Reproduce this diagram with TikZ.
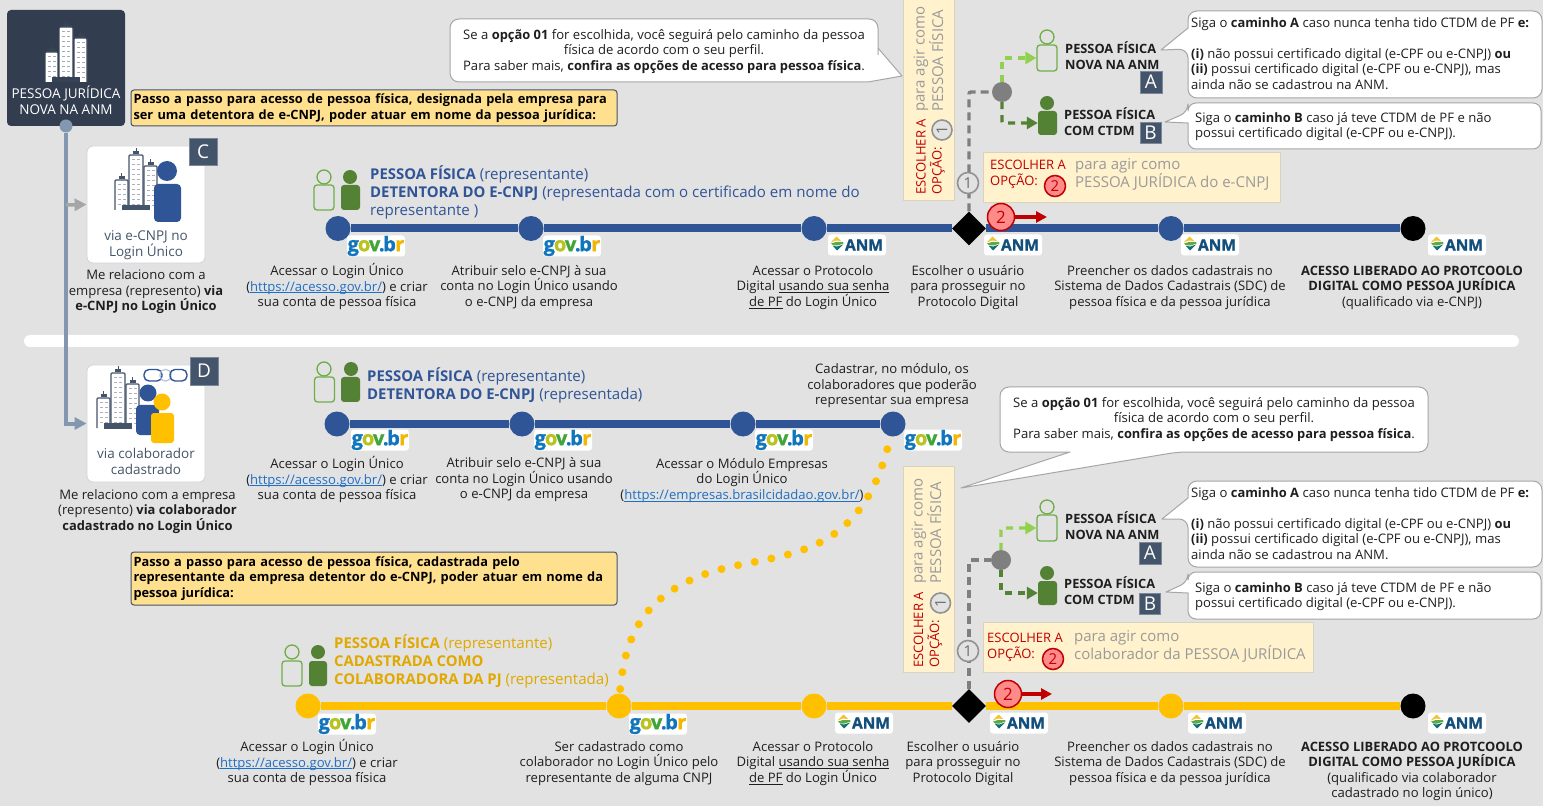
\documentclass[tikz,border=0pt]{standalone}
\usepackage{fontspec}
\setmainfont{Open Sans}[BoldFeatures={Scale=0.985}]
\newfontfamily\logofont{Open Sans}[BoldFeatures={FakeBold=1.2}]
\usetikzlibrary{arrows.meta,shapes.geometric,backgrounds}
\pgfdeclarelayer{back}\pgfdeclarelayer{conn}\pgfsetlayers{back,conn,main}
\definecolor{bgc}{HTML}{E2E2E2}
\definecolor{ink}{HTML}{1E1E1E}
\definecolor{slate}{HTML}{44546A}
\definecolor{navy}{HTML}{323E50}
\definecolor{blu}{HTML}{2F5597}
\definecolor{yel}{HTML}{FFC000}
\definecolor{yeltx}{HTML}{E0A800}
\definecolor{lnk}{HTML}{1F6FC4}
\definecolor{lg}{HTML}{92D050}
\definecolor{lgo}{HTML}{70AD47}
\definecolor{dg}{HTML}{548235}
\definecolor{cream}{HTML}{FFF2CC}
\definecolor{creamb}{HTML}{D9D3BE}
\definecolor{note}{HTML}{FFE08F}
\definecolor{redd}{HTML}{C00000}
\definecolor{pink}{HTML}{FF8A8A}
\definecolor{gry}{HTML}{7F7F7F}
\definecolor{gtx}{HTML}{9A9A9A}
\definecolor{spinec}{HTML}{8497B0}
\definecolor{arrg}{HTML}{A6A6A6}
\definecolor{cardb}{HTML}{D0D4DC}
\definecolor{anmy}{HTML}{F2C230}
\definecolor{anmg}{HTML}{5AAA46}
\definecolor{anmt}{HTML}{146E78}
\definecolor{anmb}{HTML}{134F7C}
\newcommand\fsz[2]{\fontsize{#1}{#2}\selectfont}
\newcommand\uln[1]{\leavevmode\setbox0\hbox{#1}\rlap{\copy0}\rlap{\rule[-1.7pt]{\wd0}{.6pt}}\kern\wd0\relax}
\newcommand\lk[1]{\textcolor{lnk}{\uln{#1}}}
\newcommand\gb{{\logofont\fsz{20}{20}\bfseries\textcolor[HTML]{0F75BC}{g}\kern-1pt\textcolor[HTML]{B9C21E}{o}\kern-1.4pt\textcolor[HTML]{3FA535}{v}\kern-1.4pt\textcolor[HTML]{0F75BC}{.}\kern-1.4pt\textcolor[HTML]{0F75BC}{b}\kern-.6pt\textcolor[HTML]{F2B705}{r}}}
\tikzset{
 txt/.style={align=center,inner sep=0pt,text=ink,font=\fsz{13.1}{15.5},yshift=-1.5pt},
 ltxt/.style={align=left,inner sep=0pt,text=ink,font=\fsz{13.1}{15.5},yshift=-2pt},
 hdr/.style={align=left,inner sep=0pt,font=\fsz{15.1}{18}},
 logo/.style={fill=white,rounded corners=3pt,minimum width=58pt,minimum height=21pt,inner sep=0pt},
 badge/.style={fill=slate,text=white,inner sep=0pt,font=\fsz{19}{19},draw=slate!70!white,line width=.6pt},
 card/.style={fill=white,draw=cardb,line width=.8pt,rounded corners=6pt,minimum width=118pt,minimum height=117pt,inner sep=0pt},
 sblue/.style={circle,fill=blu,minimum size=25pt,inner sep=0pt},
 syel/.style={circle,fill=yel,minimum size=25pt,inner sep=0pt},
 sblk/.style={circle,fill=black,minimum size=25pt,inner sep=0pt},
 dia/.style={diamond,fill=black,minimum width=34pt,minimum height=34pt,inner sep=0pt,aspect=1},
 lineb/.style={draw=blu,line width=8pt},
 liney/.style={draw=yel,line width=8pt},
 choice/.style={fill=cream,draw=creamb,line width=.8pt,inner sep=0pt},
 one/.style={circle,draw=gry!85!white,fill=bgc,line width=1.6pt,minimum size=21pt,inner sep=0pt,text=gry!85!black,font=\fsz{15}{15}},
 two/.style={circle,draw=redd,fill=pink,line width=1.5pt,inner sep=0pt,text=redd},
 dot/.style={circle,fill=gry,minimum size=20pt,inner sep=0pt},
 gdash/.style={draw=gry,line width=3.4pt,dash pattern=on 8pt off 5pt,rounded corners=2pt},
 lgdash/.style={draw=lg,line width=3.4pt,dash pattern=on 7pt off 6pt,rounded corners=2pt,-{Triangle[length=11pt,width=12pt]}},
 dgdash/.style={draw=dg,line width=3.4pt,dash pattern=on 7pt off 6pt,rounded corners=2pt,-{Triangle[length=11pt,width=12pt]}},
 redarr/.style={draw=redd,line width=3.2pt,-{Triangle[length=11pt,width=11pt]}},
 headL/.style={circle,draw=lgo,line width=1.3pt,minimum size=14pt,inner sep=0pt},
 bodyL/.style={draw=lgo,line width=1.3pt,rounded corners=3pt,inner sep=0pt},
 headD/.style={circle,fill=dg,minimum size=14pt,inner sep=0pt},
 bodyD/.style={fill=dg,rounded corners=3pt,inner sep=0pt},
 bub/.style={fill=white,draw=arrg,line width=1pt,line join=round},
 yellownote/.style={fill=note,draw=slate,line width=1pt,rounded corners=3pt,inner sep=0pt,align=left,text=black,font=\fsz{13}{15.5}\bfseries},
 grytxt/.style={align=left,inner sep=0pt,text=gtx},
 redtxt/.style={align=left,inner sep=0pt,text=redd,font=\fsz{13}{16}},
 plab/.style={align=left,inner sep=0pt,text=ink,font=\fsz{13}{15.5}\bfseries},
}
% x, y, name
\newcommand\gv[3]{\node[logo] (#3) at (#1,#2) {\gb};}
\newcommand\an[3]{\node[logo] (#3) at (#1,#2) {\hspace*{14pt}{\logofont\fsz{15.5}{16}\bfseries\textcolor{anmb}{ANM}}};
 \begin{scope}[shift={(#1,#2)}]
 \fill[anmy] (-26.5,-2.5) -- (-20.5,-8.5) -- (-16,-4) -- (-21,-4.5) -- cycle;
 \fill[anmg] (-26,-1.5) -- (-21,-3) -- (-14,-3) -- (-13.5,-1.5) -- (-19.5,0.5) -- (-24,0.5) -- cycle;
 \fill[anmt] (-24,1) -- (-19.5,1.5) -- (-14,-.5) -- (-20,5.5) -- cycle;
 \end{scope}}
% x y scale outline windows
\newcommand\bldg[5]{\begin{scope}[shift={(#1,#2)},scale=#3]
 \foreach \a/\b/\t in {-21/-8/-30,-7/7/-55,8/21/-44}{
  \fill[#4] ({(\a+\b)/2-3},\t-1) rectangle ({(\a+\b)/2+3},\t-4);
  \draw[#4] ({(\a+\b)/2},\t-4) -- ({(\a+\b)/2},\t-7);
  \draw[#4,fill=white,line width=1.3pt,rounded corners=1pt] (\a,0) -- (\a,\t) -- (\b,\t) -- (\b,0);
  \foreach \r in {4,9,...,54}{
   \pgfmathparse{\t+\r<-1?1:0}
   \ifnum\pgfmathresult=1
    \fill[#5] (\a+2.5,\t+\r) rectangle (\a+5.8,\t+\r+1.2);
    \fill[#5] (\a+7.5,\t+\r) rectangle (\a+10.8,\t+\r+1.2);
   \fi}}
 \fill[#4] (-14,-5) rectangle (14,0.5);
 \end{scope}}
\begin{document}
\begin{tikzpicture}[x=1pt,y=-1pt]
\useasboundingbox (0,0) rectangle (1543,810);
\begin{pgfonlayer}{back}
\fill[bgc] (0,0) rectangle (1543,806);
\fill[white,rounded corners=6pt] (24,335) rectangle (1519,347);
\end{pgfonlayer}

% PJ
\node[fill=navy,rounded corners=4pt,minimum width=118pt,minimum height=116pt,inner sep=0pt] (pj) at (66,68) {};
\bldg{66}{82}{1}{slate!80!black}{slate!50!white}
\node[txt,text=white,font=\fsz{13.5}{16}] (pjt) at (66,98.5) {PESSOA JURÍDICA\\NOVA NA ANM};
\node[circle,fill=spinec,minimum size=13pt,inner sep=0pt] (pjdot) at (66,126) {};

\node[yellownote,minimum width=486pt,minimum height=36pt,text width=481pt] (n1) at (374,108) {Passo a passo para acesso de pessoa física, designada pela empresa para\\ser uma detentora de e-CNPJ, poder atuar em nome da pessoa jurídica:};
\node[yellownote,minimum width=486pt,minimum height=53pt,text width=481pt] (n2) at (374,578.5) {Passo a passo para acesso de pessoa física, cadastrada pelo\\representante da empresa detentor do e-CNPJ, poder atuar em nome da\\pessoa jurídica:};

% cards
\node[card] (cardc) at (146,204.5) {};
\node[card] (cardd) at (146,423.5) {};
\node[badge,minimum width=28pt,minimum height=27pt] (bc) at (203,151.5) {C};
\node[badge,minimum width=28pt,minimum height=28pt] (bd) at (204,371) {D};
\coordinate (spl) at (66,205);
\begin{pgfonlayer}{conn}
\draw[draw=spinec,line width=4pt,-{Triangle[length=12pt,width=12pt]}] (pjdot) |- (cardd.west);
\draw[draw=arrg,line width=3.5pt,-{Triangle[length=12pt,width=12pt]}] (spl) -- (cardc.west);
\end{pgfonlayer}
\bldg{136}{210}{1}{slate}{slate!45!white}
\node[circle,fill=blu,minimum size=20pt,inner sep=0pt] (pch) at (167,171) {};
\node[fill=blu,rounded corners=4pt,minimum width=27pt,minimum height=38pt,inner sep=0pt] (pcb) at (167.5,203) {};
\node[txt,text=slate,font=\fsz{13.5}{16}] (cct) at (146,243.5) {via e-CNPJ no\\Login Único};
\node[txt] (ccc) at (146,290.5) {Me relaciono com a\\empresa (represento) \textbf{via}\\\textbf{e-CNPJ no Login Único}};

\draw[draw=blu,line width=1.4pt,rounded corners=5pt] (144,369.5) rectangle (162,381);
\draw[draw=blu!35!white,line width=1.2pt,rounded corners=5pt] (160,369.5) rectangle (171,381);
\draw[draw=blu,line width=1.4pt,rounded corners=5pt] (170,369.5) rectangle (187,381);
\bldg{118}{428}{1}{slate}{slate!45!white}
\node[circle,fill=blu,minimum size=17pt,inner sep=0pt] (pdh) at (148,393) {};
\node[fill=blu,rounded corners=4pt,minimum width=23pt,minimum height=30pt,inner sep=0pt] (pdb) at (147.5,420) {};
\node[circle,fill=yel,minimum size=17pt,inner sep=0pt] (pdh2) at (162,402) {};
\node[fill=yel,rounded corners=3pt,minimum width=23pt,minimum height=30pt,inner sep=0pt] (pdb2) at (162.5,428) {};
\node[txt,text=slate,font=\fsz{13.5}{16}] (cdt) at (146,460) {via colaborador\\cadastrado};
\node[txt] (cdc) at (147.5,510) {Me relaciono com a empresa\\(represento) \textbf{via colaborador}\\\textbf{cadastrado no Login Único}};

% === line 1
\node[sblue] (a1) at (338,228.5) {};
\node[sblue] (a2) at (531,228.5) {};
\node[sblue] (a3) at (814,228.5) {};
\node[dia] (a4) at (969,228.5) {};
\node[sblue] (a5) at (1171,228.5) {};
\node[sblk] (a6) at (1413,228.5) {};
\begin{pgfonlayer}{conn}\path[lineb] (a1) -- (a2) -- (a3) -- (a4) -- (a5) -- (a6);\end{pgfonlayer}
\gv{376}{246}{ga1}\gv{572}{246}{ga2}
\an{857}{245}{na3}\an{1013}{245}{na4}\an{1210}{245}{na5}\an{1457}{245}{na6}
\node[headL] (h1a) at (324,177) {};
\node[bodyL,minimum width=20pt,minimum height=25pt] (b1a) at (324,197.5) {};
\node[headD] (h1b) at (350,177) {};
\node[bodyD,minimum width=19pt,minimum height=25pt] (b1b) at (350.5,197.5) {};
\node[hdr,anchor=west,text=blu] (ht1) at (370,192) {\textbf{PESSOA FÍSICA} (representante)\\\textbf{DETENTORA DO E-CNPJ} (representada com o certificado em nome do\\representante )};
\node[txt] (t11) at (337,285) {Acessar o Login Único\\(\lk{https://acesso.gov.br/}) e criar\\sua conta de pessoa física};
\node[txt] (t12) at (529,286) {Atribuir selo e-CNPJ à sua\\conta no Login Único usando\\o e-CNPJ da empresa};
\node[txt] (t13) at (813,286) {Acessar o Protocolo\\Digital \uln{usando sua senha}\\\uln{de PF} do Login Único};
\node[txt] (t14) at (968,286) {Escolher o usuário\\para prosseguir no\\Protocolo Digital};
\node[txt] (t15) at (1170,286) {Preencher os dados cadastrais no\\Sistema de Dados Cadastrais (SDC) de\\pessoa física e da pessoa jurídica};
\node[txt] (t16) at (1412,286) {\textbf{ACESSO LIBERADO AO PROTCOOLO}\\\textbf{DIGITAL COMO PESSOA JURÍDICA}\\(qualificado via e-CNPJ)};

% === line 2
\node[sblue] (c1) at (337,424) {};
\node[sblue] (c2) at (522,424) {};
\node[sblue] (c3) at (743,424) {};
\node[sblue] (c4) at (893,424) {};
\begin{pgfonlayer}{conn}\path[lineb] (c1) -- (c2) -- (c3) -- (c4);\end{pgfonlayer}
\gv{380}{440}{gc1}\gv{563}{440}{gc2}\gv{784}{440}{gc3}\gv{933}{440}{gc4}
\node[headL] (h2a) at (324,369) {};
\node[bodyL,minimum width=20pt,minimum height=25pt] (b2a) at (324.5,389.5) {};
\node[headD] (h2b) at (351,369) {};
\node[bodyD,minimum width=19pt,minimum height=25pt] (b2b) at (350.5,389.5) {};
\node[hdr,anchor=west,text=blu] (ht2) at (367,385) {\textbf{PESSOA FÍSICA} (representante)\\\textbf{DETENTORA DO E-CNPJ} (representada)};
\node[txt] (t24) at (892,384.5) {Cadastrar, no módulo, os\\colaboradores que poderão\\representar sua empresa};
\node[txt] (t21) at (337,478) {Acessar o Login Único\\(\lk{https://acesso.gov.br/}) e criar\\sua conta de pessoa física};
\node[txt] (t22) at (524,478.5) {Atribuir selo e-CNPJ à sua\\conta no Login Único usando\\o e-CNPJ da empresa};
\node[txt] (t23) at (742,479) {Acessar o Módulo Empresas\\do Login Único\\(\lk{https://empresas.brasilcidadao.gov.br/})};

% === line 3
\node[syel] (e1) at (308,706) {};
\node[syel] (e2) at (619,706) {};
\node[syel] (e3) at (814,706) {};
\node[dia] (e4) at (969,706) {};
\node[syel] (e5) at (1171,706) {};
\node[sblk] (e6) at (1413,706) {};
\begin{pgfonlayer}{conn}
\path[liney] (e1) -- (e2) -- (e3) -- (e4) -- (e5) -- (e6);
\draw[draw=yel,line width=8pt,line cap=round,dash pattern=on 0pt off 17pt] (e2.center) .. controls (622,640) and (640,600) .. (700,576) .. controls (770,548) and (865,575) .. (c4.center);
\end{pgfonlayer}
\gv{347}{724}{ge1}\gv{658}{724}{ge2}
\an{864}{723}{ne3}\an{1019}{723}{ne4}\an{1217}{723}{ne5}\an{1457}{723}{ne6}
\node[headL] (h3a) at (292,652) {};
\node[bodyL,minimum width=20pt,minimum height=25pt] (b3a) at (292,673.5) {};
\node[headD] (h3b) at (318,652) {};
\node[bodyD,minimum width=18pt,minimum height=25pt] (b3b) at (318,673.5) {};
\node[hdr,anchor=west,text=yeltx] (ht3) at (334,661) {\textbf{PESSOA FÍSICA} (representante)\\\textbf{CADASTRADA COMO}\\\textbf{COLABORADORA DA PJ} (representada)};
\node[txt] (t31) at (307,761) {Acessar o Login Único\\(\lk{https://acesso.gov.br/}) e criar\\sua conta de pessoa física};
\node[txt] (t32) at (619,762) {Ser cadastrado como\\colaborador no Login Único pelo\\representante de alguma CNPJ};
\node[txt] (t33) at (813,762) {Acessar o Protocolo\\Digital \uln{usando sua senha}\\\uln{de PF} do Login Único};
\node[txt] (t34) at (963,762) {Escolher o usuário\\para prosseguir no\\Protocolo Digital};
\node[txt] (t35) at (1170,762) {Preencher os dados cadastrais no\\Sistema de Dados Cadastrais (SDC) de\\pessoa física e da pessoa jurídica};
\node[txt] (t36) at (1412,770) {\textbf{ACESSO LIBERADO AO PROTCOOLO}\\\textbf{DIGITAL COMO PESSOA JURÍDICA}\\(qualificado via colaborador\\cadastrado no login único)};

% === bubble 1
\draw[bub,rounded corners=9pt] (450,19) -- (878,19) -- (878,60) [sharp corners] -- (878,48) -- (902,76) -- (868,82) [rounded corners=9pt] -- (450,82) -- cycle;
\node[txt] (bt1) at (664,50) {Se a \textbf{opção 01} for escolhida, você seguirá pelo caminho da pessoa\\física de acordo com o seu perfil.\\Para saber mais, \textbf{confira as opções de acesso para pessoa física}.};
\draw[bub,rounded corners=9pt] (1000,387) -- (1428,387) -- (1428,452) -- (1178,452) [sharp corners] -- (961,488) -- (1070,452) [rounded corners=9pt] -- (1000,452) -- cycle;
\node[txt] (bt2) at (1214,418) {Se a \textbf{opção 01} for escolhida, você seguirá pelo caminho da pessoa\\física de acordo com o seu perfil.\\Para saber mais, \textbf{confira as opções de acesso para pessoa física}.};

% === option box 1 (top)
\node[choice,minimum width=51pt,minimum height=201pt] (v1) at (928.5,99.5) {};
\node[grytxt,rotate=90,font=\fsz{15}{17}] (v1g) at (928.5,59) {para agir como\\PESSOA FÍSICA};
\node[redtxt,rotate=90] (v1r) at (930.5,157) {ESCOLHER A\\OPÇÃO:};
\node[one,rotate=90,minimum size=20pt] (v1o) at (942,130) {1};
\node[choice,minimum width=297pt,minimum height=50pt] (h1) at (1131.5,177) {};
\node[redtxt,anchor=west] (h1r) at (990,174) {ESCOLHER A\\OPÇÃO:};
\node[two,minimum size=21pt,font=\fsz{15}{15}] (h1o) at (1055,186) {2};
\node[grytxt,anchor=west,font=\fsz{15}{18}] (h1g) at (1075,174) {para agir como\\PESSOA JURÍDICA do e-CNPJ};

% === option box 2 (bottom)
\node[choice,minimum width=51pt,minimum height=206pt] (v2) at (928.5,569) {};
\node[grytxt,rotate=90,font=\fsz{15}{17}] (v2g) at (926.5,531) {para agir como\\PESSOA FÍSICA};
\node[redtxt,rotate=90] (v2r) at (928,630) {ESCOLHER A\\OPÇÃO:};
\node[one,rotate=90,minimum size=20pt] (v2o) at (940.5,603) {1};
\node[choice,minimum width=330pt,minimum height=50pt] (h2) at (1148,647) {};
\node[redtxt,anchor=west] (h2r) at (987,647) {ESCOLHER A\\OPÇÃO:};
\node[two,minimum size=21pt,font=\fsz{15}{15}] (h2o) at (1053,659) {2};
\node[grytxt,anchor=west,font=\fsz{15}{18}] (h2g) at (1074,646) {para agir como\\colaborador da PESSOA JURÍDICA};

% === decision group 1
\node[one] (o1) at (968,183) {1};
\node[dot] (g1) at (1002,92) {};
\node[headL] (pah) at (1047,37) {};
\node[bodyL,minimum width=20pt,minimum height=26pt] (pab) at (1047,58) {};
\node[headD] (pbh) at (1047,103) {};
\node[bodyD,minimum width=19pt,minimum height=24pt] (pbb) at (1047.5,123) {};
\begin{pgfonlayer}{conn}
\draw[gdash] (a4.north) |- (g1);
\draw[lgdash] (g1) |- (pab.west);
\draw[dgdash] (g1) |- (pbb.west);
\end{pgfonlayer}
\node[plab,anchor=west] (pat) at (1065,55.5) {PESSOA FÍSICA\\NOVA NA ANM};
\node[plab,anchor=west] (pbt) at (1064,121.5) {PESSOA FÍSICA\\COM CTDM};
\node[badge,minimum width=22pt,minimum height=22pt] (ba1) at (1151,82) {A};
\node[badge,minimum width=21pt,minimum height=21pt] (bb1) at (1150.5,133) {B};
\draw[bub,rounded corners=9pt] (1188,30) -- (1188,11) -- (1542,11) -- (1542,98) -- (1188,98) -- (1188,49) [sharp corners] -- (1161,50) -- (1188,28) [rounded corners=9pt] -- cycle;
\draw[bub,rounded corners=8pt] (1188,123) -- (1188,149) -- (1541,149) -- (1541,103) -- (1188,103) -- (1188,112) [sharp corners] -- (1165,122) -- cycle;
\node[ltxt,anchor=north west] (ta1) at (1191,15) {Siga o \textbf{caminho A} caso nunca tenha tido CTDM de PF \textbf{e:}\\[15.5pt]\textbf{(i)} não possui certificado digital (e-CPF ou e-CNPJ) \textbf{ou}\\\textbf{(ii)} possui certificado digital (e-CPF ou e-CNPJ), mas\\ainda não se cadastrou na ANM.};
\node[ltxt,anchor=north west] (tb1) at (1195,110) {Siga o \textbf{caminho B} caso já teve CTDM de PF e não\\possui certificado digital (e-CPF ou e-CNPJ).};
\node[circle,draw=redd,fill=pink,line width=1.5pt,minimum size=27pt,inner sep=0pt,text=redd,font=\fsz{17}{17}] (r1) at (1001,217) {2};
\coordinate (r1e) at (1047,217);
\draw[redarr] (r1) -- (r1e);

% === decision group 2
\node[one] (o2) at (968,651) {1};
\node[dot] (g2) at (1001,560) {};
\node[headL] (qah) at (1047,507) {};
\node[bodyL,minimum width=20pt,minimum height=26pt] (qab) at (1047,528) {};
\node[headD] (qbh) at (1047,573) {};
\node[bodyD,minimum width=19pt,minimum height=24pt] (qbb) at (1047.5,593) {};
\begin{pgfonlayer}{conn}
\draw[gdash] (e4.north) |- (g2);
\draw[lgdash] (g2) |- (qab.west);
\draw[dgdash] (g2) |- (qbb.west);
\end{pgfonlayer}
\node[plab,anchor=west] (qat) at (1065,525.5) {PESSOA FÍSICA\\NOVA NA ANM};
\node[plab,anchor=west] (qbt) at (1064,590.5) {PESSOA FÍSICA\\COM CTDM};
\node[badge,minimum width=22pt,minimum height=22pt] (ba2) at (1150,553) {A};
\node[badge,minimum width=21pt,minimum height=21pt] (bb2) at (1150,604) {B};
\draw[bub,rounded corners=9pt] (1188,500) -- (1188,481) -- (1542,481) -- (1542,567) -- (1188,567) -- (1188,519) [sharp corners] -- (1162,519) -- (1188,498) [rounded corners=9pt] -- cycle;
\draw[bub,rounded corners=8pt] (1188,593) -- (1188,619) -- (1541,619) -- (1541,572) -- (1188,572) -- (1188,582) [sharp corners] -- (1166,592) -- cycle;
\node[ltxt,anchor=north west] (ta2) at (1191,485) {Siga o \textbf{caminho A} caso nunca tenha tido CTDM de PF \textbf{e:}\\[15.5pt]\textbf{(i)} não possui certificado digital (e-CPF ou e-CNPJ) \textbf{ou}\\\textbf{(ii)} possui certificado digital (e-CPF ou e-CNPJ), mas\\ainda não se cadastrou na ANM.};
\node[ltxt,anchor=north west] (tb2) at (1195,580) {Siga o \textbf{caminho B} caso já teve CTDM de PF e não\\possui certificado digital (e-CPF ou e-CNPJ).};
\node[circle,draw=redd,fill=pink,line width=1.5pt,minimum size=27pt,inner sep=0pt,text=redd,font=\fsz{17}{17}] (r2) at (1008,694) {2};
\coordinate (r2e) at (1052,694);
\draw[redarr] (r2) -- (r2e);
\end{tikzpicture}
\end{document}
